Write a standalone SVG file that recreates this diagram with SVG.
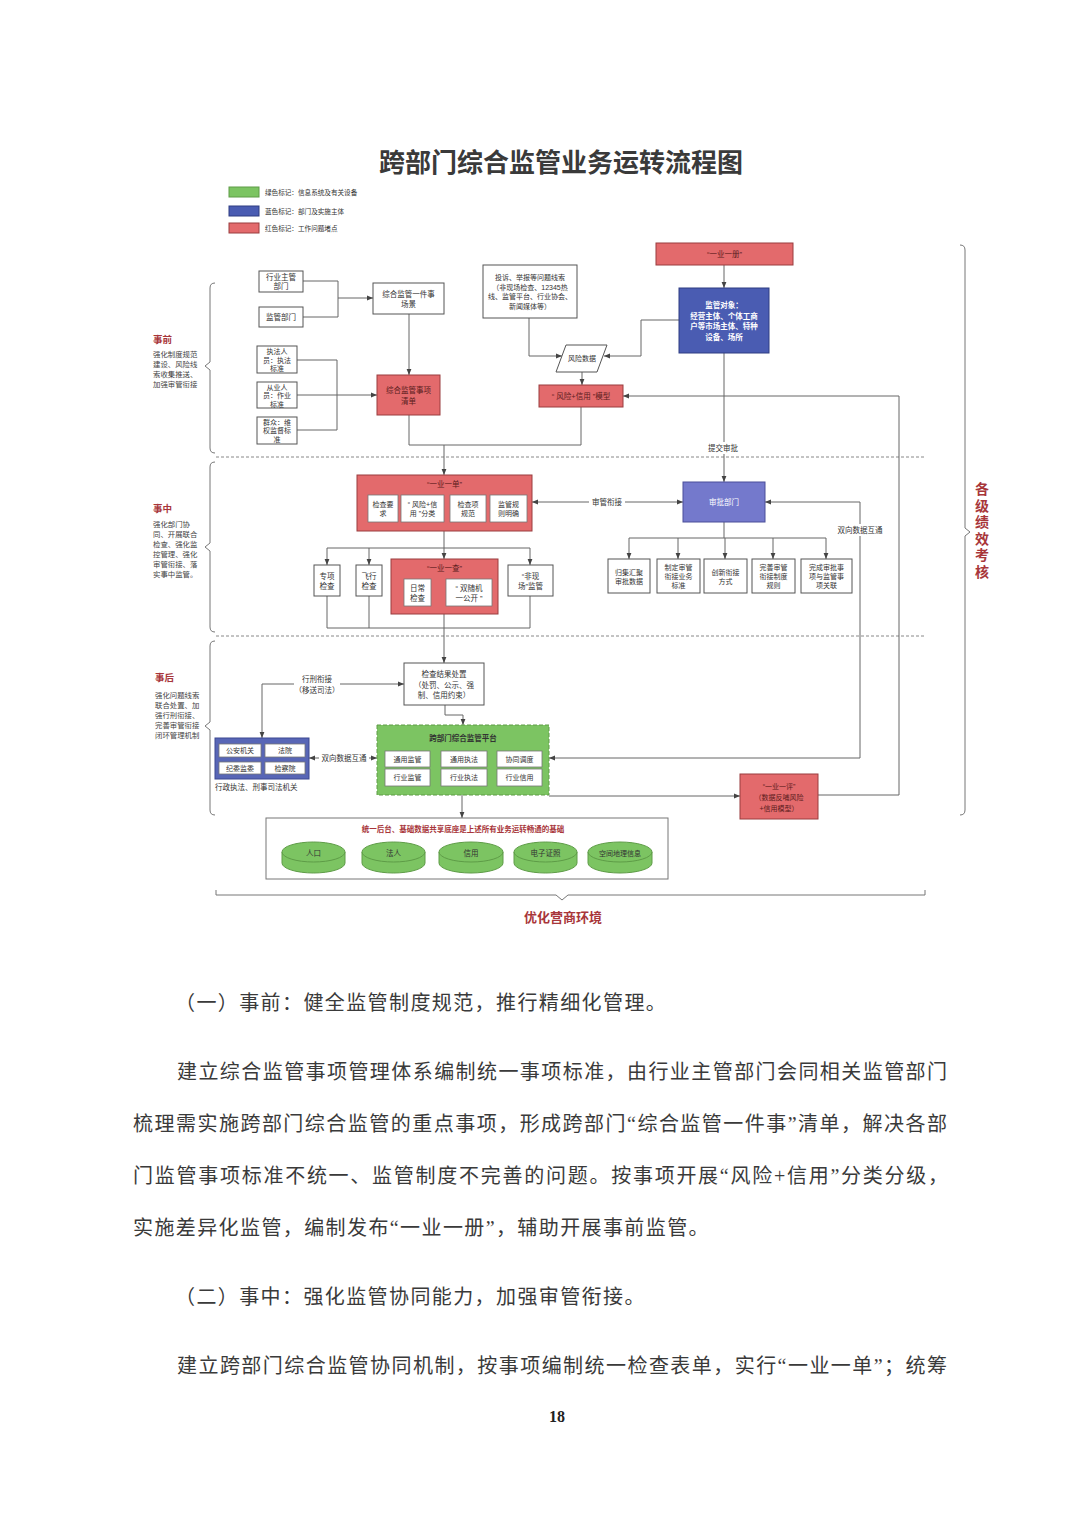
<svg xmlns="http://www.w3.org/2000/svg" width="1080" height="1527" viewBox="0 0 1080 1527">
<defs>
<marker id="a" viewBox="0 0 10 10" refX="10" refY="5" markerUnits="userSpaceOnUse" markerWidth="6" markerHeight="6" orient="auto-start-reverse"><path d="M0,1 L10,5 L0,9z" fill="#444"/></marker>
<style>
text{font-family:"Liberation Sans","Noto Sans CJK SC",sans-serif}
.t{font-size:7.5px;fill:#333;text-anchor:middle;dominant-baseline:central}
.s{font-size:7px}
.w{fill:#fff}
.rt{fill:#5a1c1c}
.lg{font-size:6.6px;fill:#333;dominant-baseline:central}
.bx{fill:#fff;stroke:#555;stroke-width:1}
.ib{fill:#fff;stroke:#777;stroke-width:0.8}
.red{fill:#e36a6c;stroke:#9a3d3f;stroke-width:1}
.blu{fill:#4a5cb2;stroke:#2e3c82;stroke-width:1}
.grn{fill:#7cc462;stroke:#5e9c47;stroke-width:1}
.c{fill:none;stroke:#666;stroke-width:1}
.br{fill:none;stroke:#777;stroke-width:1}
.dash{stroke:#888;stroke-width:1;stroke-dasharray:3 2}
.hd{font-weight:bold;fill:#a8363a}
.lb{fill:#fff}
.body{font-family:"Liberation Serif","Noto Sans CJK SC",serif;font-size:20px;fill:#3a3a3a}
.pg{font-family:"Liberation Serif",serif;font-size:16px;font-weight:bold;fill:#222;text-anchor:middle}
</style>
</defs>
<rect width="1080" height="1527" fill="#fff"/>

<text x="561" y="172" text-anchor="middle" font-size="26" font-weight="bold" fill="#3a3a3a">跨部门综合监管业务运转流程图</text>

<g id="legend">
<rect x="229" y="187" width="30" height="10" class="grn"/>
<text x="265" y="192.5" class="lg">绿色标记：信息系统及有关设备</text>
<rect x="229" y="206" width="30" height="10" class="blu"/>
<text x="265" y="211" class="lg">蓝色标记：部门及实施主体</text>
<rect x="229" y="223" width="30" height="10" class="red"/>
<text x="265" y="228" class="lg">红色标记：工作问题堵点</text>
</g>

<g id="dividers">
<line x1="216" y1="457" x2="925" y2="457" class="dash"/>
<line x1="216" y1="636" x2="925" y2="636" class="dash"/>
</g>

<g id="phase-labels">
<path d="M215,283 Q210,283 210,288 V362 L205,366 L210,370 V448 Q210,453 215,453" class="br"/>
<text x="153" y="339" font-size="9.5" class="hd" dominant-baseline="central">事前</text>
<g font-size="7.4" fill="#444" dominant-baseline="central">
<text x="153" y="354">强化制度规范</text><text x="153" y="364">建设、风险线</text><text x="153" y="374">索收集推送、</text><text x="153" y="384">加强审管衔接</text>
</g>
<path d="M215,462 Q210,462 210,467 V543 L205,547 L210,551 V627 Q210,632 215,632" class="br"/>
<text x="153" y="508" font-size="9.5" class="hd" dominant-baseline="central">事中</text>
<g font-size="7.4" fill="#444" dominant-baseline="central">
<text x="153" y="524">强化部门协</text><text x="153" y="534">同、开展联合</text><text x="153" y="544">检查、强化监</text><text x="153" y="554">控管理、强化</text><text x="153" y="564">审管衔接、落</text><text x="153" y="574">实事中监管。</text>
</g>
<path d="M215,641 Q210,641 210,646 V722 L205,726 L210,730 V810 Q210,815 215,815" class="br"/>
<text x="155" y="677" font-size="9.5" class="hd" dominant-baseline="central">事后</text>
<g font-size="7.4" fill="#444" dominant-baseline="central">
<text x="155" y="695">强化问题线索</text><text x="155" y="705">联合处置、加</text><text x="155" y="715">强行刑衔接、</text><text x="155" y="725">完善审管衔接</text><text x="155" y="735">闭环管理机制</text>
</g>
<path d="M960,245 Q965,245 965,250 V528 L970,532 L965,536 V810 Q965,815 960,815" class="br"/>
<g font-size="14" class="hd" text-anchor="middle" dominant-baseline="central">
<text x="982" y="489">各</text><text x="982" y="506">级</text><text x="982" y="522">绩</text><text x="982" y="539">效</text><text x="982" y="555">考</text><text x="982" y="572">核</text>
</g>
<path d="M216,890 V895 H556 L562,900 L568,895 H925 V890" class="br"/>
<text x="563" y="917" font-size="13" class="hd" text-anchor="middle" dominant-baseline="central">优化营商环境</text>
</g>

<g id="connectors">
<path d="M303,281 H338 V317 H303" class="c"/>
<path d="M338,298 H373" class="c" stroke-width="2" marker-end="url(#a)"/>
<path d="M409,314 V375" class="c" marker-end="url(#a)"/>
<path d="M297,360 H337 V430 H297" class="c"/>
<path d="M297,395 H377" class="c" marker-end="url(#a)"/>
<path d="M409,415 V445 H581 V407" class="c"/>
<path d="M444,445 V475" class="c" marker-end="url(#a)"/>
<path d="M724,265 V288" class="c" marker-end="url(#a)"/>
<path d="M529,318 V356 H562" class="c" marker-end="url(#a)"/>
<path d="M679,320 H641 V356 H604" class="c" marker-end="url(#a)"/>
<path d="M582,372 V385" class="c" marker-end="url(#a)"/>
<path d="M818,795 H899 V396 H623" class="c" marker-end="url(#a)"/>
<path d="M724,353 V482" class="c" marker-end="url(#a)"/>
<path d="M532,502 H683" class="c" marker-start="url(#a)" marker-end="url(#a)"/>
<path d="M549,758 H860 V502 H765" class="c" marker-start="url(#a)" marker-end="url(#a)"/>
<path d="M724,522 V538 M629,538 H826" class="c"/>
<path d="M629,538 V559" class="c" marker-end="url(#a)"/>
<path d="M678,538 V559" class="c" marker-end="url(#a)"/>
<path d="M725,538 V559" class="c" marker-end="url(#a)"/>
<path d="M773,538 V559" class="c" marker-end="url(#a)"/>
<path d="M826,538 V559" class="c" marker-end="url(#a)"/>
<path d="M444,531 V548 M327,548 H530" class="c"/>
<path d="M327,548 V565" class="c" marker-end="url(#a)"/>
<path d="M369,548 V565" class="c" marker-end="url(#a)"/>
<path d="M444,548 V559" class="c" marker-end="url(#a)"/>
<path d="M530,548 V565" class="c" marker-end="url(#a)"/>
<path d="M327,596 V628 M369,596 V628 M530,596 V628 M327,628 H530" class="c"/>
<path d="M444,614 V663" class="c" marker-end="url(#a)"/>
<path d="M445,705 V715 H463 V725" class="c" marker-end="url(#a)"/>
<path d="M404,684 H262 V738" class="c" marker-start="url(#a)" marker-end="url(#a)"/>
<path d="M309,758 H377" class="c" marker-start="url(#a)" marker-end="url(#a)"/>
<path d="M462,795 V818" class="c" marker-end="url(#a)"/>
<path d="M549,796 H740" class="c" marker-end="url(#a)"/>
<rect x="703" y="442" width="41" height="12" class="lb"/>
<text x="723" y="448" class="t">提交审批</text>
<rect x="589" y="496" width="36" height="12" class="lb"/>
<text x="607" y="502" class="t">审管衔接</text>
<rect x="836" y="524" width="50" height="12" class="lb"/>
<text x="860" y="530" class="t">双向数据互通</text>
<rect x="319" y="752" width="50" height="12" class="lb"/>
<text x="344" y="758" class="t">双向数据互通</text>
<rect x="294" y="672" width="46" height="24" class="lb"/>
<text x="317" y="679" class="t">行刑衔接</text>
<text x="317" y="690" class="t">（移送司法）</text>
</g>

<g id="n-hyzg"><rect x="259" y="271" width="44" height="21" class="bx"/><text x="281" class="t"><tspan x="281" y="277">行业主管</tspan><tspan x="281" y="286">部门</tspan></text></g>
<g id="n-jgbm"><rect x="259" y="307" width="44" height="20" class="bx"/><text x="281" y="317" class="t">监管部门</text></g>
<g id="n-cj"><rect x="373" y="283" width="71" height="31" class="bx"/><text class="t"><tspan x="408.5" y="293.5">综合监管一件事</tspan><tspan x="408.5" y="304">场景</tspan></text></g>
<g id="n-zf"><rect x="257" y="346" width="40" height="27" class="bx"/><text class="t s"><tspan x="277" y="351">执法人</tspan><tspan x="277" y="359.5">员：执法</tspan><tspan x="277" y="368">标准</tspan></text></g>
<g id="n-cy"><rect x="257" y="382" width="40" height="26" class="bx"/><text class="t s"><tspan x="277" y="386.5">从业人</tspan><tspan x="277" y="395">员：作业</tspan><tspan x="277" y="403.5">标准</tspan></text></g>
<g id="n-qz"><rect x="257" y="417" width="40" height="27" class="bx"/><text class="t s"><tspan x="277" y="421.5">群众：维</tspan><tspan x="277" y="430">权监督标</tspan><tspan x="277" y="438.5">准</tspan></text></g>
<g id="n-qd"><rect x="377" y="375" width="63" height="40" class="red"/><text class="t rt"><tspan x="408.5" y="390">综合监管事项</tspan><tspan x="408.5" y="401">清单</tspan></text></g>
<g id="n-ts"><rect x="483" y="265" width="94" height="53" class="bx"/><text class="t s"><tspan x="530" y="277">投诉、举报等问题线索</tspan><tspan x="530" y="286.5">（非现场检查、12345热</tspan><tspan x="530" y="296">线、监管平台、行业协会、</tspan><tspan x="530" y="305.5">新闻媒体等）</tspan></text></g>
<g id="n-yc"><rect x="656" y="243" width="137" height="22" class="red"/><text x="724.5" y="254" class="t rt">“一业一册”</text></g>
<g id="n-jgdx"><rect x="679" y="288" width="90" height="65" class="blu"/><text class="t w" font-weight="bold"><tspan x="724" y="305">监管对象：</tspan><tspan x="724" y="315.5">经营主体、个体工商</tspan><tspan x="724" y="326">户等市场主体、特种</tspan><tspan x="724" y="336.5">设备、场所</tspan></text></g>
<g id="n-fxsj"><path d="M566,345 H607 L597,372 H556 Z" class="bx"/><text x="582" y="358.5" class="t s">风险数据</text></g>
<g id="n-fxxy"><rect x="539" y="385" width="84" height="22" class="red"/><text x="581" y="396" class="t rt">“ 风险+信用 ”模型</text></g>

<g id="n-yd"><rect x="357" y="475" width="175" height="56" class="red"/><text x="444.5" y="484" class="t rt">“一业一单”</text>
<rect x="368" y="495" width="30" height="27" class="ib"/><text class="t s"><tspan x="383" y="504">检查要</tspan><tspan x="383" y="513">求</tspan></text>
<rect x="401" y="495" width="43" height="27" class="ib"/><text class="t s"><tspan x="422.5" y="504">“ 风险+信</tspan><tspan x="422.5" y="513">用 ”分类</tspan></text>
<rect x="450" y="495" width="36" height="27" class="ib"/><text class="t s"><tspan x="468" y="504">检查项</tspan><tspan x="468" y="513">规范</tspan></text>
<rect x="490" y="495" width="37" height="27" class="ib"/><text class="t s"><tspan x="508.5" y="504">监管规</tspan><tspan x="508.5" y="513">则明确</tspan></text>
</g>
<g id="n-spbm"><rect x="683" y="482" width="82" height="40" fill="#7479cc" stroke="#4b4f99"/><text x="724" y="502" class="t w">审批部门</text></g>
<g id="n-g1"><rect x="608" y="559" width="42" height="34" class="bx"/><text class="t s"><tspan x="629" y="571.5">归集汇聚</tspan><tspan x="629" y="580.5">审批数据</tspan></text></g>
<g id="n-g2"><rect x="657" y="559" width="43" height="34" class="bx"/><text class="t s"><tspan x="678.5" y="567">制定审管</tspan><tspan x="678.5" y="576">衔接业务</tspan><tspan x="678.5" y="585">标准</tspan></text></g>
<g id="n-g3"><rect x="704" y="559" width="43" height="34" class="bx"/><text class="t s"><tspan x="725.5" y="571.5">创新衔接</tspan><tspan x="725.5" y="580.5">方式</tspan></text></g>
<g id="n-g4"><rect x="752" y="559" width="43" height="34" class="bx"/><text class="t s"><tspan x="773.5" y="567">完善审管</tspan><tspan x="773.5" y="576">衔接制度</tspan><tspan x="773.5" y="585">规则</tspan></text></g>
<g id="n-g5"><rect x="801" y="559" width="51" height="34" class="bx"/><text class="t s"><tspan x="826.5" y="567">完成审批事</tspan><tspan x="826.5" y="576">项与监管事</tspan><tspan x="826.5" y="585">项关联</tspan></text></g>
<g id="n-zx"><rect x="314" y="565" width="26" height="31" class="bx"/><text class="t"><tspan x="327" y="576">专项</tspan><tspan x="327" y="586">检查</tspan></text></g>
<g id="n-fx"><rect x="356" y="565" width="26" height="31" class="bx"/><text class="t"><tspan x="369" y="576">飞行</tspan><tspan x="369" y="586">检查</tspan></text></g>
<g id="n-ycha"><rect x="391" y="559" width="107" height="55" class="red"/><text x="444.5" y="568" class="t rt">“一业一查”</text>
<rect x="404" y="579" width="27" height="27" class="ib"/><text class="t"><tspan x="417.5" y="588">日常</tspan><tspan x="417.5" y="598">检查</tspan></text>
<rect x="446" y="579" width="46" height="27" class="ib"/><text class="t"><tspan x="469" y="588">“ 双随机</tspan><tspan x="469" y="598">一公开 ”</tspan></text>
</g>
<g id="n-fxc"><rect x="508" y="565" width="45" height="31" class="bx"/><text class="t"><tspan x="530.5" y="576">“非现</tspan><tspan x="530.5" y="586">场”监管</tspan></text></g>

<g id="n-jgcz"><rect x="404" y="663" width="80" height="42" class="bx"/><text class="t"><tspan x="444" y="674">检查结果处置</tspan><tspan x="444" y="684.5">（处罚、公示、强</tspan><tspan x="444" y="695">制、信用约束）</tspan></text></g>
<g id="n-sfjg"><rect x="215" y="738" width="94" height="41" fill="#5866b6" stroke="#3c4891"/>
<rect x="219" y="744" width="42" height="13" class="ib"/><text x="240" y="750.5" class="t s">公安机关</text>
<rect x="265" y="744" width="40" height="13" class="ib"/><text x="285" y="750.5" class="t s">法院</text>
<rect x="219" y="762" width="42" height="12" class="ib"/><text x="240" y="768" class="t s">纪委监委</text>
<rect x="265" y="762" width="40" height="12" class="ib"/><text x="285" y="768" class="t s">检察院</text>
<text x="215" y="787" font-size="7.5" fill="#333" dominant-baseline="central">行政执法、刑事司法机关</text>
</g>
<g id="n-pt"><rect x="377" y="725" width="172" height="70" class="grn" stroke-dasharray="4 2"/>
<text x="463" y="738" class="t" font-size="9.5" font-weight="bold">跨部门综合监管平台</text>
<rect x="385" y="751" width="45" height="16" class="ib"/><text x="407.5" y="759" class="t s">通用监管</text>
<rect x="441" y="751" width="46" height="16" class="ib"/><text x="464" y="759" class="t s">通用执法</text>
<rect x="497" y="751" width="45" height="16" class="ib"/><text x="519.5" y="759" class="t s">协同调度</text>
<rect x="385" y="769" width="45" height="17" class="ib"/><text x="407.5" y="777.5" class="t s">行业监管</text>
<rect x="441" y="769" width="46" height="17" class="ib"/><text x="464" y="777.5" class="t s">行业执法</text>
<rect x="497" y="769" width="45" height="17" class="ib"/><text x="519.5" y="777.5" class="t s">行业信用</text>
</g>
<g id="n-yp"><rect x="740" y="774" width="78" height="45" class="red"/><text class="t s rt"><tspan x="779" y="786">“一业一评”</tspan><tspan x="779" y="797">（数据反哺风险</tspan><tspan x="779" y="808">+信用模型）</tspan></text></g>

<g id="n-base"><rect x="266" y="818" width="402" height="61" fill="#fff" stroke="#777"/>
<text x="463" y="829" class="t hd" font-size="9.8">统一后台、基础数据共享底座是上述所有业务运转畅通的基础</text>
<g class="grn">
<path d="M282,852 V863 A31.5,10 0 0 0 345,863 V852"/><ellipse cx="313.5" cy="852" rx="31.5" ry="10"/>
<path d="M362,852 V863 A31.5,10 0 0 0 425,863 V852"/><ellipse cx="393.5" cy="852" rx="31.5" ry="10"/>
<path d="M439,852 V863 A32,10 0 0 0 503,863 V852"/><ellipse cx="471" cy="852" rx="32" ry="10"/>
<path d="M514,852 V863 A31.5,10 0 0 0 577,863 V852"/><ellipse cx="545.5" cy="852" rx="31.5" ry="10"/>
<path d="M588,852 V863 A32,10 0 0 0 652,863 V852"/><ellipse cx="620" cy="852" rx="32" ry="10"/>
</g>
<text x="313.5" y="853" class="t">人口</text>
<text x="393.5" y="853" class="t">法人</text>
<text x="471" y="853" class="t">信用</text>
<text x="545.5" y="853" class="t">电子证照</text>
<text x="620" y="853" class="t s">空间地理信息</text>
</g>

<g id="body-text">
<text x="175" y="1010" class="body" letter-spacing="1.4">（一）事前：健全监管制度规范，推行精细化管理。</text>
<text x="177" y="1079" class="body" textLength="770" lengthAdjust="spacing">建立综合监管事项管理体系编制统一事项标准，由行业主管部门会同相关监管部门</text>
<text x="133" y="1131" class="body" textLength="814" lengthAdjust="spacing">梳理需实施跨部门综合监管的重点事项，形成跨部门“综合监管一件事”清单，解决各部</text>
<text x="133" y="1183" class="body" textLength="815" lengthAdjust="spacing">门监管事项标准不统一、监管制度不完善的问题。按事项开展“风险+信用”分类分级，</text>
<text x="133" y="1235" class="body" letter-spacing="1.4">实施差异化监管，编制发布“一业一册”，辅助开展事前监管。</text>
<text x="175" y="1304" class="body" letter-spacing="1.4">（二）事中：强化监管协同能力，加强审管衔接。</text>
<text x="177" y="1373" class="body" textLength="770" lengthAdjust="spacing">建立跨部门综合监管协同机制，按事项编制统一检查表单，实行“一业一单”；统筹</text>
<text x="557" y="1422" class="pg">18</text>
</g>
</svg>
